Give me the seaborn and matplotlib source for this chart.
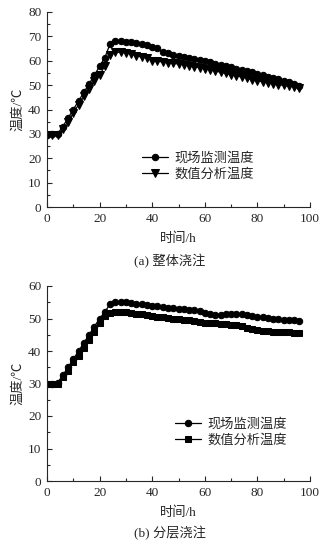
import numpy as np
import pandas as pd
import matplotlib
matplotlib.use("Agg")
import matplotlib.pyplot as plt
import seaborn as sns
from matplotlib.ticker import MultipleLocator

sns.set_style("ticks")
plt.rcParams['font.family'] = ['Liberation Serif', 'Noto Sans CJK SC', 'DejaVu Sans']

hours = list(range(0, 97, 2))

top_field = [29.5, 29.8, 30.0, 33.0, 36.5, 40.0, 43.5, 47.0, 50.5, 54.0, 57.8, 61.3, 67.0,
             68.0, 68.0, 67.8, 67.5, 67.2, 66.8, 66.3, 65.8, 65.2, 63.5, 63.0, 62.5, 62.0,
             61.6, 61.2, 60.7, 60.3, 59.8, 59.3, 58.8, 58.3, 57.8, 57.3, 56.8, 56.3, 55.8,
             55.2, 54.6, 54.0, 53.5, 53.0, 52.4, 51.8, 51.2, 50.5, 49.5]
top_model = [29.5, 29.5, 29.7, 32.0, 35.0, 38.5, 42.0, 45.5, 48.5, 51.5, 54.0, 58.0, 62.5,
             63.5, 63.5, 63.2, 62.8, 62.0, 61.5, 61.2, 60.0, 59.8, 59.5, 59.2, 58.9, 58.7,
             58.4, 58.0, 57.6, 57.2, 56.8, 56.3, 55.8, 55.3, 54.8, 54.3, 53.8, 53.3, 52.8,
             52.3, 51.8, 51.4, 51.0, 50.6, 50.2, 49.9, 49.6, 49.3, 49.0]

bot_field = [29.7, 30.0, 30.2, 32.5, 35.0, 37.5, 40.0, 42.5, 45.0, 47.5, 50.0, 52.0, 54.5,
             55.0, 55.1, 55.0, 54.8, 54.6, 54.4, 54.2, 54.0, 53.8, 53.5, 53.3, 53.1, 53.0,
             52.8, 52.7, 52.5, 52.2, 51.8, 51.4, 51.2, 51.2, 51.3, 51.5, 51.5, 51.4, 51.1,
             50.9, 50.6, 50.4, 50.1, 49.9, 49.8, 49.6, 49.5, 49.4, 49.3]
bot_model = [29.7, 30.0, 30.0, 32.0, 34.0, 36.5, 38.5, 41.0, 43.5, 46.0, 48.5, 50.8, 51.8,
             52.0, 52.0, 52.0, 51.8, 51.5, 51.3, 51.0, 50.8, 50.6, 50.4, 50.2, 50.0, 49.8,
             49.6, 49.4, 49.1, 48.9, 48.7, 48.6, 48.5, 48.4, 48.3, 48.1, 47.9, 47.6, 47.2,
             46.8, 46.5, 46.3, 46.1, 46.0, 45.9, 45.8, 45.7, 45.6, 45.5]

label_field = "现场监测温度"
label_model = "数值分析温度"
xlabel = "时间/h"
ylabel = "温度/℃"
captions = ["(a) 整体浇注", "(b) 分层浇注"]

W, H = 327, 546
fig = plt.figure(figsize=(W / 100, H / 100), dpi=100)

def ax_rect(left, top, right, bottom):
    return [left / W, 1 - bottom / H, (right - left) / W, (bottom - top) / H]

ax1 = fig.add_axes(ax_rect(47, 12, 310, 207))
ax2 = fig.add_axes(ax_rect(47, 286, 310, 481))

fs = 9.5
lw = 0.9
ms = 4.6

def draw(ax, field, model, mk2, ymax, ystep, leg_anchor, cap, cap_y):
    sns.lineplot(x=hours, y=field, ax=ax, color='black', linewidth=lw, marker='o',
                 markersize=ms, markeredgecolor='black', label=label_field)
    sns.lineplot(x=hours, y=model, ax=ax, color='black', linewidth=lw, marker=mk2,
                 markersize=ms + (0.6 if mk2 == 'v' else 0), markeredgecolor='black',
                 label=label_model)
    ax.set_xlim(0, 100)
    ax.set_ylim(0, ymax)
    ax.xaxis.set_major_locator(MultipleLocator(20))
    ax.xaxis.set_minor_locator(MultipleLocator(10))
    ax.yaxis.set_major_locator(MultipleLocator(ystep))
    ax.yaxis.set_minor_locator(MultipleLocator(ystep / 2))
    ax.tick_params(which='both', direction='in', labelsize=fs, width=0.8, pad=4)
    ax.tick_params(which='major', length=3.5)
    ax.tick_params(which='minor', length=2)
    for s in ['top', 'right']:
        ax.spines[s].set_visible(False)
    for s in ['left', 'bottom']:
        ax.spines[s].set_linewidth(0.8)
    ax.set_xlabel(xlabel, fontsize=fs, labelpad=6)
    ax.set_ylabel(ylabel, fontsize=fs, labelpad=3)
    leg = ax.legend(loc='center left', bbox_to_anchor=leg_anchor, frameon=False,
                    fontsize=fs, handlelength=2.0, handletextpad=0.5,
                    borderpad=0, borderaxespad=0, labelspacing=0.25)
    fig.text(0.52, cap_y, cap, ha='center', va='center', fontsize=fs)

draw(ax1, top_field, top_model, 'v', 80, 10, (0.36, 0.21), captions[0], 1 - 261 / H)
draw(ax2, bot_field, bot_model, 's', 60, 10, (0.485, 0.25), captions[1], 1 - 533 / H)

fig.savefig("out.png", dpi=100)
